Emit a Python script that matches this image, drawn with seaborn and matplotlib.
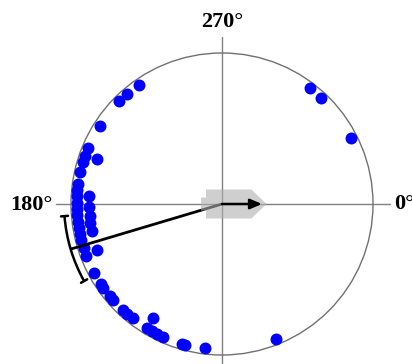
import numpy as np
import pandas as pd
import matplotlib
matplotlib.use("Agg")
import matplotlib.pyplot as plt
import seaborn as sns
from matplotlib.patches import Polygon, Arc, Circle

# ---- data (angles in degrees, clockwise from right: 0 right, 90 bottom, 180 left, 270 top)
angles_outer = [235, 229, 225, 212.7, 202.8, 199.5, 197, 192.7, 188, 185.5, 183,
                180.5, 178, 175.5, 173, 170.5, 168, 165.5, 162.5, 159, 151.7,
                146.5, 144.8, 140.5, 138.6, 132.9, 131, 128, 121.2, 119, 116.8,
                114, 106, 104.6, 96.8, 68.2, 307.2, 313.1, 333.1]
angles_inner = [199.8, 183.6, 178.6, 175, 172, 168.4, 159.6, 121]
mean_angle = 163.4
ci_low, ci_high = 150.8, 175.6
axis_labels = ["0°", "270°", "180°"]

# ---- style constants
R = 151.0
DOT_R = 5.8
STEP = 12.2

sns.set_style("white")
plt.rcParams["font.family"] = ["Liberation Serif", "DejaVu Serif"]

df = pd.DataFrame({
    "angle": angles_outer + angles_inner,
    "level": [0] * len(angles_outer) + [1] * len(angles_inner),
})
df["r"] = R - DOT_R - df["level"] * STEP
rad = np.deg2rad(df["angle"])
df["x"] = df["r"] * np.cos(rad)
df["y"] = -df["r"] * np.sin(rad)

fig = plt.figure(figsize=(4.12, 3.64), dpi=100)
ax = fig.add_axes([0, 0, 1, 1])
ax.set_xlim(-222, 190)
ax.set_ylim(-160, 204)
ax.set_aspect("equal")
ax.axis("off")

# crosshair
ax.plot([-166, 168], [0, 0], color="#808080", lw=1, zorder=1)
ax.plot([0, 0], [-175, 167], color="#808080", lw=1, zorder=1)
# circle
ax.add_patch(Circle((0, 0), R, fill=False, ec="#707070", lw=1, zorder=1))

# dots
sns.scatterplot(data=df, x="x", y="y", color="#0000ff", s=74, linewidth=0,
                ax=ax, legend=False, zorder=3)

# mean vector and confidence arc
Ra = R * 1.046
m = np.deg2rad(mean_angle)
ax.plot([0, Ra * np.cos(m)], [0, -Ra * np.sin(m)], color="black", lw=2,
        solid_capstyle="butt", zorder=4)
ax.add_patch(Arc((0, 0), 2 * Ra, 2 * Ra, theta1=360 - ci_high,
                 theta2=360 - ci_low, color="black", lw=1.8, zorder=4))
for a in (ci_low, ci_high):
    t = np.deg2rad(a)
    ax.plot([(Ra - 3.5) * np.cos(t), (Ra + 3.5) * np.cos(t)],
            [-(Ra - 3.5) * np.sin(t), -(Ra + 3.5) * np.sin(t)],
            color="black", lw=1.8, zorder=4)

# gray block arrow (semi-transparent)
block = [(-21, -6.5), (-16, -6.5), (-16, -14.5), (29.5, -14.5), (44.5, 0),
         (29.5, 14.5), (-16, 14.5), (-16, 6.5), (-21, 6.5)]
ax.add_patch(Polygon(block, closed=True, fc="#b0b0b0", ec="none", alpha=0.6,
                     zorder=5))
ax.annotate("", xy=(40, 0), xytext=(0, 0),
            arrowprops=dict(arrowstyle="-|>,head_length=0.7,head_width=0.3",
                            color="black", lw=1.8, shrinkA=0, shrinkB=0),
            zorder=6)

# labels
tk = dict(fontsize=16, fontweight="bold", color="black", va="center")
ax.text(172, 0, axis_labels[0], ha="left", **tk)
ax.text(0, 182, axis_labels[1], ha="center", **tk)
ax.text(-169, -1, axis_labels[2], ha="right", **tk)

fig.savefig("out.png", dpi=100)
